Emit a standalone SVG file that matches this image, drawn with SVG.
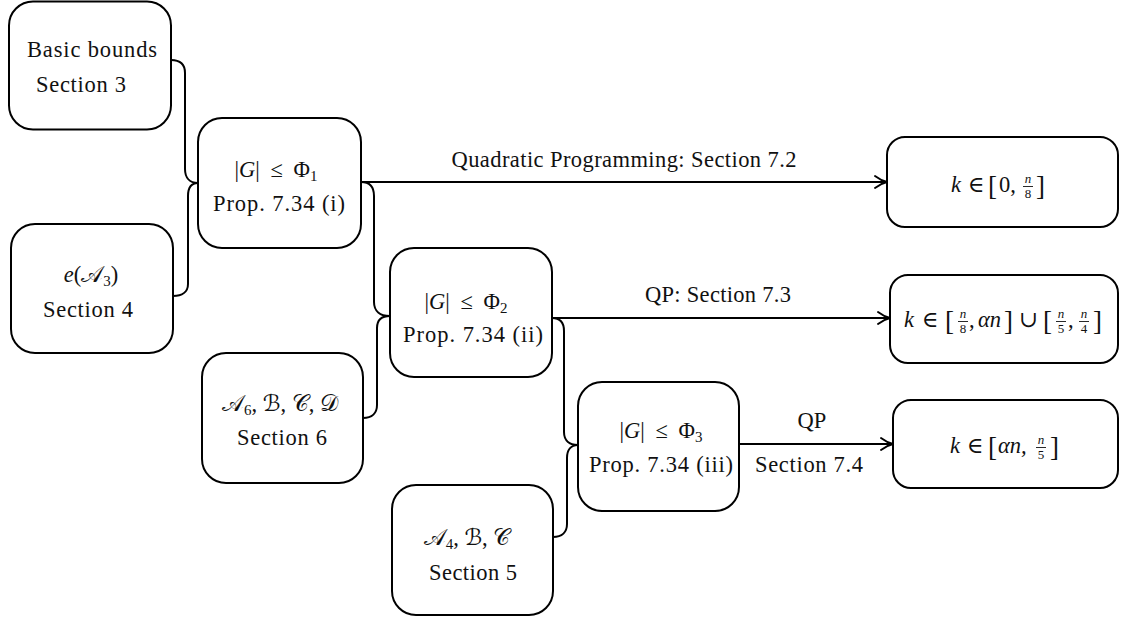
<svg xmlns="http://www.w3.org/2000/svg" width="1123" height="619" viewBox="0 0 1123 619">
<style>
.nd{fill:#fff;stroke:#000;stroke-width:2}
.t{font-family:"Liberation Serif","DejaVu Serif",serif;font-size:22.5px;fill:#111}
.m{font-family:"Liberation Serif","DejaVu Serif",serif;font-size:22.5px;fill:#111}
.c{text-anchor:middle}
.i{font-style:italic}
.cal{font-family:"DejaVu Serif","DejaVu Sans","Noto Sans",serif}
.br{font-family:"Liberation Serif","DejaVu Serif",serif;font-size:27px;fill:#111}
.fr{font-family:"Liberation Serif","DejaVu Serif",serif;font-size:13px;fill:#111;text-anchor:middle}
.fb{stroke:#111;stroke-width:0.9}
.conn{fill:none;stroke:#000;stroke-width:2}
</style>
<defs>
<marker id="arr" viewBox="-13 -8 16 16" markerWidth="16" markerHeight="16" refX="0" refY="0" orient="auto" markerUnits="userSpaceOnUse" overflow="visible">
<path d="M-12,-6 C-7.5,-2.6 -3.5,-0.8 0,0 C-3.5,0.8 -7.5,2.6 -12,6" fill="none" stroke="#000" stroke-width="1.9" stroke-linecap="round"/>
</marker>
</defs>

<g id="connectors">
<path class="conn" d="M171,60 C180,60 185,64 185,73 L185,169 C185,178 190,183 198,183"/>
<path class="conn" d="M173,296 C182,296 188,292 188,284 L188,196 C188,188 191,183 198,183"/>
<path class="conn" d="M361,182 C370,182 374,187 374,196 L374,302 C374,311 380,316 390,316"/>
<path class="conn" d="M363,418 C372,418 377,413 377,405 L377,328 C377,320 381,316 390,316"/>
<path class="conn" d="M552,318 C560,318 564,322 564,331 L564,432 C564,441 570,445 578,445"/>
<path class="conn" d="M553,537 C562,537 567,532 567,524 L567,458 C567,450 571,445 578,445"/>
<path class="conn" d="M361,182 L887,182" marker-end="url(#arr)"/>
<path class="conn" d="M552,318 L890,318" marker-end="url(#arr)"/>
<path class="conn" d="M739,444 L893,444" marker-end="url(#arr)"/>
<text class="t c" x="624" y="167" textLength="345">Quadratic Programming: Section 7.2</text>
<text class="t c" x="718" y="302" textLength="146">QP: Section 7.3</text>
<text class="t c" x="812" y="428">QP</text>
<text class="t c" x="809" y="472" textLength="108">Section 7.4</text>
</g>

<g id="basic-bounds">
<rect class="nd" x="9" y="1.5" width="162" height="128" rx="24"/>
<text class="t c" x="92" y="57" textLength="130">Basic bounds</text>
<text class="t c" x="81" y="92" textLength="90">Section 3</text>
</g>

<g id="eA3">
<rect class="nd" x="11" y="224" width="162" height="129" rx="24"/>
<text class="t c" x="91" y="282"><tspan class="i">e</tspan>(<tspan class="cal">𝒜</tspan><tspan font-size="15" dy="4">3</tspan><tspan dy="-4">)</tspan></text>
<text class="t c" x="88" y="317" textLength="90">Section 4</text>
</g>

<g id="phi1">
<rect class="nd" x="198" y="118" width="163" height="130" rx="24"/>
<text class="t c" x="276" y="177">|<tspan class="i">G</tspan>|<tspan dx="5"> ≤</tspan><tspan dx="5"> Φ</tspan><tspan font-size="15" dy="4">1</tspan></text>
<text class="t c" x="279" y="211" textLength="132">Prop. 7.34 (i)</text>
</g>

<g id="phi2">
<rect class="nd" x="390" y="248" width="162" height="129" rx="24"/>
<text class="t c" x="466" y="309">|<tspan class="i">G</tspan>|<tspan dx="5"> ≤</tspan><tspan dx="5"> Φ</tspan><tspan font-size="15" dy="4">2</tspan></text>
<text class="t c" x="473" y="342" textLength="140">Prop. 7.34 (ii)</text>
</g>

<g id="A6BCD">
<rect class="nd" x="202" y="353" width="161" height="130" rx="24"/>
<text class="t c" x="280" y="411"><tspan class="cal">𝒜</tspan><tspan font-size="15" dy="4">6</tspan><tspan dy="-4">, </tspan><tspan class="cal">ℬ</tspan>, <tspan class="cal">𝒞</tspan>, <tspan class="cal">𝒟</tspan></text>
<text class="t c" x="282" y="445" textLength="90">Section 6</text>
</g>

<g id="phi3">
<rect class="nd" x="578" y="382" width="161" height="129" rx="24"/>
<text class="t c" x="661" y="438">|<tspan class="i">G</tspan>|<tspan dx="5"> ≤</tspan><tspan dx="5"> Φ</tspan><tspan font-size="15" dy="4">3</tspan></text>
<text class="t c" x="661" y="472" textLength="144">Prop. 7.34 (iii)</text>
</g>

<g id="A4BC">
<rect class="nd" x="392" y="485" width="161" height="130" rx="24"/>
<text class="t c" x="467" y="545"><tspan class="cal">𝒜</tspan><tspan font-size="15" dy="4">4</tspan><tspan dy="-4">, </tspan><tspan class="cal">ℬ</tspan>, <tspan class="cal">𝒞</tspan></text>
<text class="t c" x="473" y="580" textLength="88">Section 5</text>
</g>

<g id="k1">
<rect class="nd" x="887" y="137" width="231" height="90" rx="18"/>
<text class="m i" x="951" y="192">k</text>
<text class="m" x="968" y="192">∈</text>
<text class="br" x="988" y="195">[</text>
<text class="m" x="999" y="192">0,</text>
<text class="fr i" x="1028" y="183">n</text>
<line class="fb" x1="1023" y1="186.5" x2="1033" y2="186.5"/>
<text class="fr" x="1028" y="198">8</text>
<text class="br" x="1036" y="195">]</text>
</g>

<g id="k2">
<rect class="nd" x="890" y="275" width="228" height="88" rx="18"/>
<text class="m i" x="904" y="327">k</text>
<text class="m" x="922" y="327">∈</text>
<text class="br" x="945" y="330">[</text>
<text class="fr i" x="963" y="318">n</text>
<line class="fb" x1="958" y1="321.5" x2="968" y2="321.5"/>
<text class="fr" x="963" y="333">8</text>
<text class="m" x="969" y="327">,</text>
<text class="m i" x="978" y="327">αn</text>
<text class="br" x="1004" y="330">]</text>
<text class="m" x="1019" y="327">∪</text>
<text class="br" x="1043" y="330">[</text>
<text class="fr i" x="1061" y="318">n</text>
<line class="fb" x1="1056" y1="321.5" x2="1066" y2="321.5"/>
<text class="fr" x="1061" y="333">5</text>
<text class="m" x="1068" y="327">,</text>
<text class="fr i" x="1084" y="318">n</text>
<line class="fb" x1="1079" y1="321.5" x2="1089" y2="321.5"/>
<text class="fr" x="1084" y="333">4</text>
<text class="br" x="1093" y="330">]</text>
</g>

<g id="k3">
<rect class="nd" x="893" y="400" width="225" height="88" rx="18"/>
<text class="m i" x="950" y="453">k</text>
<text class="m" x="967" y="453">∈</text>
<text class="br" x="988" y="456">[</text>
<text class="m i" x="998" y="453">αn,</text>
<text class="fr i" x="1041" y="444">n</text>
<line class="fb" x1="1036" y1="447.5" x2="1046" y2="447.5"/>
<text class="fr" x="1041" y="459">5</text>
<text class="br" x="1050" y="456">]</text>
</g>
</svg>
